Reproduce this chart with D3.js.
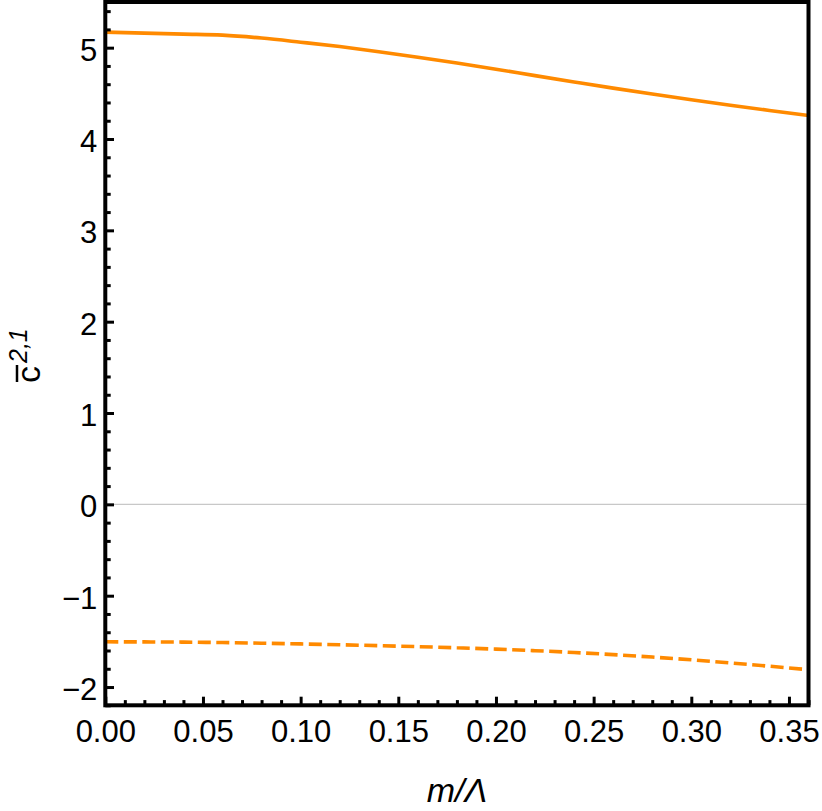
<!DOCTYPE html>
<html>
<head>
<meta charset="utf-8">
<script src="https://cdn.jsdelivr.net/npm/d3@7"></script>
<style>
html,body{margin:0;padding:0;background:#fff;}
svg{display:block;}
</style>
</head>
<body>
<svg id="chart" width="822" height="811"></svg>
<script>
// ---- data ----
const mValues = [0, 0.02, 0.04, 0.06, 0.08, 0.10, 0.12, 0.14, 0.16, 0.18, 0.20, 0.22, 0.24, 0.26, 0.28, 0.30, 0.32, 0.34, 0.36];
const solidSeries = [5.17, 5.159, 5.148, 5.137, 5.105, 5.06, 5.012, 4.956, 4.896, 4.832, 4.764, 4.694, 4.625, 4.557, 4.492, 4.43, 4.37, 4.313, 4.258];
const dashedSeries = [-1.505, -1.506, -1.508, -1.513, -1.520, -1.528, -1.537, -1.547, -1.558, -1.570, -1.585, -1.602, -1.622, -1.645, -1.672, -1.702, -1.736, -1.772, -1.810];
const xTicks = [0, 0.05, 0.10, 0.15, 0.20, 0.25, 0.30, 0.35];
const yTicks = [-2, -1, 0, 1, 2, 3, 4, 5];
const xMinorTicks = d3.range(0, 37).map(i => i / 100).filter(v => Math.round(v * 100) % 5 !== 0);
const yMinorTicks = d3.range(-11, 28).map(i => i / 5).filter(v => Math.round(v * 5) % 5 !== 0);

// ---- layout ----
const svg = d3.select("#chart");
const L = 105.3, R = 808.5, T = 2, B = 705.3;
const x = d3.scaleLinear().domain([0, 0.36]).range([L, R]);
const y = d3.scaleLinear().domain([-2.2, 5.5]).range([B, T]);
const color = "#ff8a00";
const font = "'Liberation Sans', Arial, sans-serif";

// zero line
svg.append("line")
  .attr("x1", L).attr("x2", R).attr("y1", y(0)).attr("y2", y(0))
  .attr("stroke", "#c8c8c8").attr("stroke-width", 1.2);

// curves
const line = d3.line().x((d, i) => x(mValues[i])).y(d => y(d)).curve(d3.curveMonotoneX);
svg.append("path").datum(solidSeries)
  .attr("d", line).attr("fill", "none").attr("stroke", color).attr("stroke-width", 3.6);
svg.append("path").datum(dashedSeries)
  .attr("d", line).attr("fill", "none").attr("stroke", color).attr("stroke-width", 3.6)
  .attr("stroke-dasharray", "13,5.5");

// axes
function styleAxis(g) {
  g.select(".domain").remove();
  g.selectAll(".tick line").attr("stroke", "#000").attr("stroke-width", 3);
  g.selectAll(".tick text").attr("fill", "#000").style("font-family", font).style("font-size", "31px");
}
svg.append("g").attr("transform", `translate(${L},0)`)
  .call(d3.axisLeft(y).tickValues(yMinorTicks).tickSizeInner(-5.4).tickSizeOuter(0).tickFormat(""))
  .call(styleAxis);
const yAx = svg.append("g").attr("transform", `translate(${L},0)`)
  .call(d3.axisLeft(y).tickValues(yTicks).tickSizeInner(-8.7).tickSizeOuter(0).tickPadding(8).tickFormat(d3.format("d")))
  .call(styleAxis);
yAx.selectAll(".tick text").attr("dy", "0.40em");

svg.append("g").attr("transform", `translate(0,${B})`)
  .call(d3.axisBottom(x).tickValues(xMinorTicks).tickSizeInner(-5.2).tickSizeOuter(0).tickFormat(""))
  .call(styleAxis);
svg.append("g").attr("transform", `translate(0,${B})`)
  .call(d3.axisBottom(x).tickValues(xTicks).tickSizeInner(-8.6).tickSizeOuter(0).tickPadding(15).tickFormat(d3.format(".2f")))
  .call(styleAxis);

// frame
svg.append("rect")
  .attr("x", L).attr("y", T).attr("width", R - L).attr("height", B - T)
  .attr("fill", "none").attr("stroke", "#000").attr("stroke-width", 4);

// axis titles
const yt = svg.append("g").attr("transform", "translate(40,383) rotate(-90)");
yt.append("text").attr("x", 0).attr("y", 0)
  .style("font-family", font).style("font-size", "34px").attr("fill", "#000")
  .text("c");
yt.append("line").attr("x1", 1).attr("x2", 18).attr("y1", -23).attr("y2", -23)
  .attr("stroke", "#000").attr("stroke-width", 2.5);
yt.append("text").attr("x", 20).attr("y", -13)
  .style("font-family", font).style("font-size", "25px").style("font-style", "italic").attr("fill", "#000")
  .text("2,1");

svg.append("text").attr("x", (L + R) / 2).attr("y", 802).attr("text-anchor", "middle")
  .style("font-family", font).style("font-size", "34px").style("font-style", "italic").attr("fill", "#000")
  .text("m/Λ");
</script>
</body>
</html>
